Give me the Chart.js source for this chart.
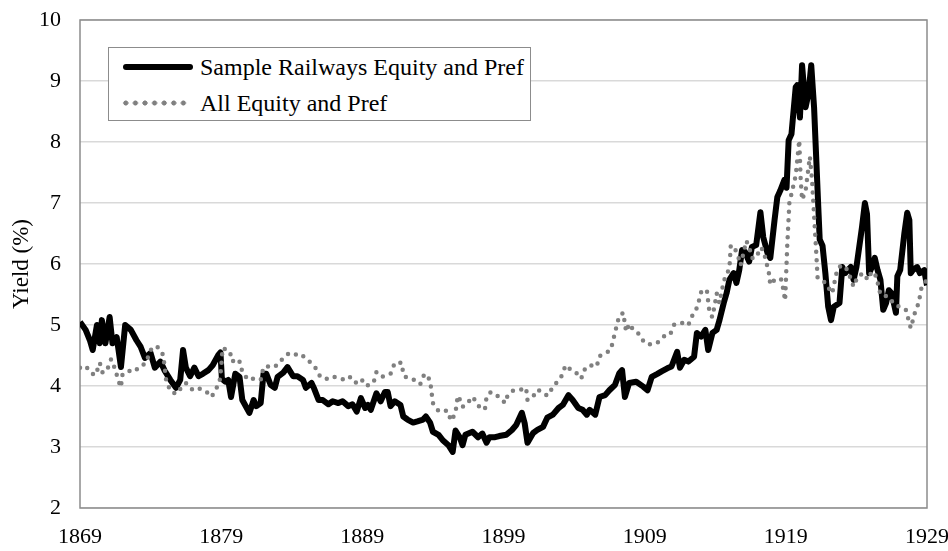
<!DOCTYPE html>
<html lang="en">
<head>
    <meta charset="UTF-8">
    <title>Railway Yields</title>
    <script src="https://cdn.jsdelivr.net/npm/chart.js"></script>
    <style>
        body { margin: 0; background: #fff; font-family: 'Liberation Serif', 'Times New Roman', serif; }
        #wrap { position: relative; width: 948px; height: 551px; }
        .legend {
            position: absolute; left: 108px; top: 47px; width: 423px; height: 74px;
            box-sizing: border-box; border: 1px solid #8c8c8c; background: #fff;
        }
        .legend .txt { position: absolute; left: 91px; font-size: 24px; line-height: 24px; color: #000; white-space: nowrap; }
        .legend .solid { position: absolute; left: 14px; top: 16px; width: 70px; height: 6px; border-radius: 3px; background: #000; }
        .legend .dots {
            position: absolute; left: 12px; top: 52px; width: 68px; height: 6px;
            background-image: radial-gradient(circle, #808080 2.3px, transparent 2.8px);
            background-size: 9.6px 6px;
        }
    </style>
</head>
<body>
    <div id="wrap">
        <canvas id="yieldChart" width="948" height="551"></canvas>
        <div class="legend">
            <div class="solid"></div>
            <div class="txt" style="top: 7px;">Sample Railways Equity and Pref</div>
            <div class="dots"></div>
            <div class="txt" style="top: 43px;">All Equity and Pref</div>
        </div>
    </div>

    <script>
        // Sample railways equity and preference share yield (%)
        const railYears = [
            1869.0, 1869.4, 1869.7, 1869.9, 1870.2, 1870.4, 1870.55, 1870.8, 1871.1, 1871.3, 1871.6, 1871.9, 1872.2, 1872.6, 1873.0, 1873.3, 1873.6, 1874.0, 1874.3, 1874.7, 1875.0, 1875.4, 1875.8, 1876.1, 1876.3, 1876.5, 1876.8, 1877.1, 1877.4, 1877.7, 1878.1, 1878.4, 1878.8, 1878.95,
            1879.05, 1879.3, 1879.5, 1879.7, 1880.0, 1880.3, 1880.5, 1881.0, 1881.3, 1881.5, 1881.8, 1882.0, 1882.2, 1882.5, 1882.8, 1883.0, 1883.4, 1883.7, 1884.1, 1884.4, 1884.8, 1885.0, 1885.4, 1885.6, 1885.9, 1886.2, 1886.6, 1886.9, 1887.3, 1887.6, 1888.0, 1888.3, 1888.6, 1888.9,
            1889.2, 1889.4, 1889.6, 1890.0, 1890.3, 1890.6, 1890.8, 1891.0, 1891.3, 1891.7, 1891.9, 1892.2, 1892.6, 1892.9, 1893.3, 1893.5, 1893.8, 1894.0, 1894.4, 1894.7, 1895.1, 1895.4, 1895.6, 1895.9, 1896.1, 1896.3, 1896.8, 1897.2, 1897.5, 1897.8, 1898.0, 1898.4, 1898.7,
            1899.2, 1899.6, 1899.9, 1900.3, 1900.5, 1900.7, 1901.1, 1901.4, 1901.8, 1902.1, 1902.5, 1902.9, 1903.2, 1903.6, 1903.9, 1904.3, 1904.6, 1904.9, 1905.1, 1905.5, 1905.8, 1906.2, 1906.5, 1906.9, 1907.2, 1907.4, 1907.6, 1907.9, 1908.4, 1908.9,
            1909.2, 1909.5, 1909.9, 1910.2, 1910.6, 1910.9, 1911.3, 1911.5, 1911.8, 1912.1, 1912.5, 1912.7, 1913.0, 1913.3, 1913.5, 1913.8, 1914.1, 1914.3, 1914.6, 1914.8, 1915.0, 1915.3, 1915.5, 1915.7, 1915.9, 1916.1, 1916.4, 1916.6, 1916.9, 1917.2, 1917.4, 1917.7, 1917.9, 1918.2, 1918.4, 1918.6, 1918.9,
            1919.05, 1919.2, 1919.4, 1919.7, 1919.8, 1920.0, 1920.15, 1920.4, 1920.6, 1920.8, 1921.0, 1921.15, 1921.3, 1921.4, 1921.6, 1921.8, 1922.0, 1922.2, 1922.4, 1922.8, 1923.0, 1923.2, 1923.6, 1923.8, 1924.0, 1924.4, 1924.6, 1924.75, 1924.9, 1925.1, 1925.3, 1925.5, 1925.7, 1925.9, 1926.1, 1926.3, 1926.5, 1926.8, 1926.9, 1927.1, 1927.4, 1927.6, 1927.75, 1927.85, 1928.0, 1928.3, 1928.5, 1928.8, 1929.0
        ];
        const railYield = [
            5.05, 4.92, 4.75, 4.59, 5.0, 4.7, 5.08, 4.7, 5.13, 4.7, 4.8, 4.31, 5.0, 4.92, 4.75, 4.64, 4.46, 4.54, 4.3, 4.4, 4.25, 4.1, 3.97, 4.1, 4.59, 4.3, 4.16, 4.3, 4.16, 4.2, 4.26, 4.34, 4.51, 4.55,
            4.12, 4.07, 4.1, 3.82, 4.2, 4.15, 3.77, 3.56, 3.77, 3.67, 3.72, 4.2, 4.2, 4.02, 3.97, 4.15, 4.22, 4.31, 4.16, 4.16, 4.1, 3.97, 4.05, 3.95, 3.77, 3.77, 3.7, 3.75, 3.72, 3.75, 3.67, 3.7, 3.58, 3.8,
            3.64, 3.69, 3.61, 3.88, 3.75, 3.9, 3.9, 3.67, 3.75, 3.69, 3.5, 3.45, 3.4, 3.42, 3.45, 3.5, 3.4, 3.25, 3.2, 3.11, 3.03, 2.92, 3.27, 3.16, 3.03, 3.2, 3.25, 3.16, 3.22, 3.07, 3.16, 3.16, 3.18,
            3.2, 3.28, 3.36, 3.56, 3.39, 3.07, 3.23, 3.28, 3.33, 3.48, 3.53, 3.64, 3.69, 3.85, 3.77, 3.64, 3.61, 3.53, 3.61, 3.53, 3.82, 3.85, 3.93, 4.02, 4.21, 4.26, 3.82, 4.05, 4.07, 3.99,
            3.93, 4.15, 4.2, 4.24, 4.29, 4.32, 4.56, 4.3, 4.43, 4.4, 4.48, 4.87, 4.81, 4.92, 4.59, 4.87, 4.92, 5.08, 5.36, 5.52, 5.74, 5.85, 5.69, 5.9, 6.23, 6.2, 6.04, 6.28, 6.31, 6.85, 6.44, 6.18, 6.1, 6.72, 7.1, 7.2, 7.38,
            7.25, 8.03, 8.13, 8.9, 8.93, 8.4, 9.26, 8.57, 8.79, 9.26, 8.57, 7.75, 6.93, 6.4, 6.3, 5.85, 5.3, 5.08, 5.3, 5.36, 5.95, 5.85, 5.95, 5.74, 5.95, 6.61, 7.0, 6.82, 5.85, 5.95, 6.1, 5.9, 5.74, 5.25, 5.36, 5.57, 5.52, 5.2, 5.8, 5.9, 6.51, 6.84, 6.72, 5.85, 5.9, 5.95, 5.85, 5.9, 5.65
        ];

        // All equity and preference share yield (%)
        const allYears = [
            1869.0, 1869.4, 1869.8, 1870.1, 1870.4, 1870.6, 1870.9, 1871.2, 1871.5, 1871.7, 1871.9, 1872.0, 1872.4, 1872.8, 1873.1, 1873.3, 1873.7, 1874.0, 1874.4, 1874.7, 1874.9, 1875.0, 1875.1, 1875.4, 1875.8, 1876.2, 1876.5, 1877.0, 1877.4, 1877.9, 1878.3, 1878.6, 1878.9,
            1879.0, 1879.1, 1879.6, 1879.8, 1880.0, 1880.3, 1880.5, 1880.9, 1881.3, 1881.8, 1882.0, 1882.3, 1882.8, 1883.2, 1883.8, 1884.2, 1884.6, 1885.0, 1885.4, 1885.7, 1886.0, 1886.4, 1886.9, 1887.4, 1887.8, 1888.1, 1888.5, 1888.9,
            1889.3, 1889.8, 1890.0, 1890.4, 1891.0, 1891.3, 1891.8, 1891.9, 1892.2, 1892.7, 1893.1, 1893.4, 1893.8, 1893.9, 1894.0, 1894.4, 1894.7, 1895.0, 1895.3, 1895.6, 1895.7, 1895.8, 1896.1, 1896.5, 1896.7, 1897.0, 1897.4, 1897.7, 1897.8, 1898.1, 1898.5, 1898.9,
            1899.1, 1899.3, 1899.7, 1900.2, 1900.6, 1900.7, 1901.1, 1901.4, 1901.8, 1902.1, 1902.5, 1902.8, 1903.1, 1903.4, 1903.8, 1904.1, 1904.5, 1904.8, 1905.1, 1905.6, 1905.8, 1906.3, 1906.6, 1906.8, 1907.0, 1907.2, 1907.5, 1907.6, 1907.7, 1907.9, 1908.2, 1908.6,
            1909.0, 1909.5, 1909.9, 1910.4, 1910.8, 1911.1, 1911.8, 1912.1, 1912.3, 1912.6, 1912.8, 1913.0, 1913.4, 1913.5, 1913.6, 1913.8, 1914.0, 1914.1, 1914.3, 1914.5, 1914.7, 1915.0, 1915.05, 1915.1, 1915.4, 1915.7, 1915.8, 1916.0, 1916.2, 1916.4, 1916.6, 1916.9, 1917.2, 1917.4, 1917.6, 1917.8, 1917.9, 1918.2, 1918.5, 1918.7, 1918.85, 1918.95,
            1919.1, 1919.25, 1919.45, 1919.7, 1919.95, 1920.05, 1920.15, 1920.4, 1920.7, 1920.85, 1921.0, 1921.15, 1921.25, 1921.7, 1922.0, 1922.2, 1922.4, 1922.5, 1922.8, 1923.2, 1923.5, 1923.8, 1924.1, 1924.5, 1924.8, 1925.1, 1925.4, 1925.7, 1926.3, 1926.7, 1927.1, 1927.5, 1927.7, 1927.85, 1928.2, 1928.4, 1928.6, 1929.0
        ];
        const allYield = [
            4.3, 4.33, 4.21, 4.18, 4.38, 4.22, 4.25, 4.44, 4.27, 4.1, 3.98, 4.18, 4.25, 4.23, 4.29, 4.3, 4.4, 4.59, 4.66, 4.59, 4.5, 4.3, 4.1, 3.92, 3.87, 3.98, 4.05, 3.93, 3.96, 3.92, 3.82, 3.92, 4.1,
            4.3, 4.62, 4.57, 4.4, 4.45, 4.4, 4.23, 4.1, 4.12, 4.1, 4.31, 4.32, 4.31, 4.41, 4.54, 4.51, 4.53, 4.45, 4.37, 4.29, 4.16, 4.11, 4.16, 4.12, 4.1, 4.15, 4.05, 4.12,
            4.0, 4.06, 4.23, 4.15, 4.2, 4.38, 4.38, 4.18, 4.13, 4.1, 4.03, 4.2, 4.1, 3.9, 3.72, 3.59, 3.58, 3.6, 3.43, 3.56, 3.75, 3.84, 3.66, 3.72, 3.82, 3.77, 3.61, 3.64, 3.82, 3.9, 3.85, 3.78,
            3.72, 3.85, 3.93, 3.94, 3.97, 3.77, 3.83, 3.94, 3.9, 3.84, 3.98, 4.07, 4.16, 4.34, 4.26, 4.23, 4.12, 4.3, 4.34, 4.32, 4.49, 4.55, 4.59, 4.78, 4.97, 5.15, 5.2, 5.0, 4.89, 5.02, 4.92, 4.85,
            4.7, 4.68, 4.71, 4.82, 4.84, 5.01, 5.04, 5.0, 5.13, 5.22, 5.36, 5.54, 5.58, 5.38, 5.19, 5.13, 5.38, 5.52, 5.36, 5.6, 5.79, 5.92, 6.11, 6.31, 6.25, 6.07, 5.98, 6.18, 6.38, 6.28, 6.1, 6.1, 6.27, 6.23, 6.05, 5.85, 5.66, 5.74, 5.77, 5.74, 5.54, 5.4,
            6.3, 7.0, 7.2, 7.45, 8.03, 7.4, 7.05, 7.2, 7.76, 7.4, 6.8, 6.2, 5.77, 5.71, 5.63, 5.52, 5.6, 5.8, 5.96, 5.97, 5.82, 5.63, 5.8, 5.85, 5.74, 5.88, 5.8, 5.5, 5.46, 5.33, 5.3, 5.25, 5.08, 4.95, 5.25, 5.35, 5.6, 5.75
        ];

        const xTicks = [1869, 1879, 1889, 1899, 1909, 1919, 1929];
        const yMin = 2, yMax = 10;

        const serif = "'Liberation Serif', 'Times New Roman', serif";

        function toPoints(xs, ys) {
            const n = Math.min(xs.length, ys.length);
            const pts = [];
            for (let i = 0; i < n; i++) pts.push({ x: xs[i], y: ys[i] });
            return pts;
        }

        // grey box round the plot area
        const plotFrame = {
            id: 'plotFrame',
            beforeDatasetsDraw(chart) {
                const { ctx, chartArea: a } = chart;
                ctx.save();
                ctx.strokeStyle = '#8c8c8c';
                ctx.lineWidth = 1.5;
                ctx.strokeRect(a.left, a.top, a.right - a.left, a.bottom - a.top);
                ctx.restore();
            }
        };

        const ctx = document.getElementById('yieldChart').getContext('2d');
        new Chart(ctx, {
            type: 'line',
            data: {
                datasets: [
                    {
                        label: 'Sample Railways Equity and Pref',
                        data: toPoints(railYears, railYield),
                        borderColor: '#000',
                        borderWidth: 6,
                        borderJoinStyle: 'round',
                        pointRadius: 0,
                        tension: 0,
                        order: 1
                    },
                    {
                        label: 'All Equity and Pref',
                        data: toPoints(allYears, allYield),
                        borderColor: '#808080',
                        borderWidth: 4.5,
                        borderDash: [0, 8.5],
                        borderCapStyle: 'round',
                        borderJoinStyle: 'round',
                        pointRadius: 0,
                        tension: 0,
                        order: 0
                    }
                ]
            },
            options: {
                responsive: false,
                animation: false,
                devicePixelRatio: 1,
                layout: { padding: { top: 20, right: 21, left: 0, bottom: 0 } },
                plugins: {
                    legend: { display: false },
                    tooltip: { enabled: false }
                },
                scales: {
                    x: {
                        type: 'linear',
                        min: xTicks[0],
                        max: xTicks[xTicks.length - 1],
                        afterBuildTicks: (scale) => { scale.ticks = xTicks.map(v => ({ value: v })); },
                        ticks: {
                            callback: (v) => String(v),
                            font: { family: serif, size: 22 },
                            color: '#000',
                            padding: 8,
                            maxRotation: 0,
                            autoSkip: false
                        },
                        grid: { display: false },
                        border: { display: false },
                        afterFit: (s) => { s.height = 43; s.paddingLeft = 0; s.paddingRight = 0; }
                    },
                    y: {
                        min: yMin,
                        max: yMax,
                        ticks: { stepSize: 1, font: { family: serif, size: 22 }, color: '#000', padding: 19 },
                        grid: { color: '#d9d9d9', lineWidth: 1.5, drawTicks: false },
                        border: { display: false },
                        title: {
                            display: true,
                            text: 'Yield (%)',
                            font: { family: serif, size: 23 },
                            color: '#000',
                            padding: { top: 8, bottom: 0 }
                        },
                        afterFit: (s) => { s.width = 80; s.paddingTop = 0; s.paddingBottom = 0; }
                    }
                }
            },
            plugins: [plotFrame]
        });
    </script>
</body>
</html>
